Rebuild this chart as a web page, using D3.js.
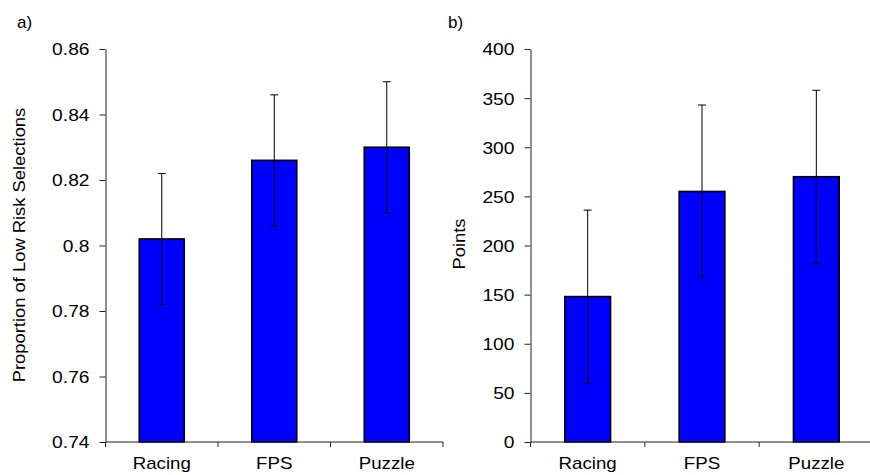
<!DOCTYPE html>
<html>
<head>
<meta charset="utf-8">
<script src="https://cdn.jsdelivr.net/npm/d3@7/dist/d3.min.js"></script>
<style>
  html, body { margin: 0; padding: 0; background: #fff; }
  svg text { font-family: "Liberation Sans", Arial, sans-serif; fill: #000; }
</style>
</head>
<body>
<svg id="chart" width="870" height="475"></svg>
<script>
// Game genres shown on both panels
const categories = ["Racing", "FPS", "Puzzle"];

// Panel a: proportion of low-risk selections (mean and error half-width)
const proportionMeans = [0.802, 0.826, 0.830];
const proportionErrors = [0.020, 0.020, 0.020];
const proportionTicks = [0.74, 0.76, 0.78, 0.80, 0.82, 0.84, 0.86];
const proportionTickLabels = ["0.74", "0.76", "0.78", "0.8", "0.82", "0.84", "0.86"];

// Panel b: points earned (mean and error half-width)
const pointsMeans = [148, 255, 270];
const pointsErrors = [88, 88, 88];
const pointsTicks = [0, 50, 100, 150, 200, 250, 300, 350, 400];

const svg = d3.select("#chart");
const FONT = 17;

// widen glyphs slightly, like a horizontally stretched Arial
function stretch(sel, k) {
  sel.each(function () {
    const w = this.getComputedTextLength();
    d3.select(this).attr("textLength", w * k).attr("lengthAdjust", "spacingAndGlyphs");
  });
}

function panel(opts) {
  const g = svg.append("g");
  const y = d3.scaleLinear().domain(opts.domain).range([442, 49]);
  const x = d3.scaleBand().domain(categories).range([opts.x0, opts.x1]).paddingInner(0).paddingOuter(0);
  const barW = x.bandwidth() * 0.4;

  // bars
  g.selectAll("rect.bar").data(opts.means).join("rect")
    .attr("class", "bar")
    .attr("x", (d, i) => x(categories[i]) + (x.bandwidth() - barW) / 2)
    .attr("y", d => y(d))
    .attr("width", barW)
    .attr("height", d => y(opts.domain[0]) - y(d))
    .attr("fill", "#0000ff")
    .attr("stroke", "#000")
    .attr("stroke-width", 1.6);

  // error bars
  const eb = g.selectAll("g.err").data(opts.means).join("g").attr("class", "err");
  const cx = i => x(categories[i]) + x.bandwidth() / 2;
  eb.append("line")
    .attr("x1", (d, i) => cx(i)).attr("x2", (d, i) => cx(i))
    .attr("y1", (d, i) => y(d - opts.errors[i]))
    .attr("y2", (d, i) => y(d + opts.errors[i]))
    .attr("stroke", "#000").attr("stroke-width", 1);
  [-1, 1].forEach(s => {
    eb.append("line")
      .attr("x1", (d, i) => cx(i) - 4).attr("x2", (d, i) => cx(i) + 4)
      .attr("y1", (d, i) => y(d + s * opts.errors[i]))
      .attr("y2", (d, i) => y(d + s * opts.errors[i]))
      .attr("stroke", "#000").attr("stroke-width", 1);
  });

  // y axis
  const yAxis = d3.axisLeft(y)
    .tickValues(opts.ticks)
    .tickFormat((d, i) => opts.tickLabels ? opts.tickLabels[i] : String(d))
    .tickSize(6).tickPadding(10).tickSizeOuter(0);
  const ya = g.append("g").attr("transform", `translate(${opts.x0},0)`).call(yAxis);
  ya.selectAll("text").style("font-size", FONT + "px").attr("dy", "0.35em")
    .call(stretch, 1.13);
  ya.selectAll("line, path").attr("stroke", "#222");

  // x axis with boundary ticks between categories
  const xa = g.append("g").attr("transform", `translate(0,${y(opts.domain[0])})`);
  xa.append("line").attr("x1", opts.x0).attr("x2", opts.x1).attr("stroke", "#222");
  const bounds = categories.map(c => x(c)).concat([opts.x1]);
  xa.selectAll("line.tk").data(bounds).join("line").attr("class", "tk")
    .attr("x1", d => d).attr("x2", d => d).attr("y1", 0).attr("y2", 5).attr("stroke", "#222");
  xa.selectAll("text").data(categories).join("text")
    .attr("x", d => x(d) + x.bandwidth() / 2)
    .attr("y", 26.5)
    .attr("text-anchor", "middle")
    .style("font-size", FONT + "px")
    .text(d => d)
    .call(stretch, 1.1);

  // y axis title
  g.append("text")
    .attr("transform", `translate(${opts.titleX},${opts.titleY}) rotate(-90)`)
    .attr("text-anchor", "middle")
    .style("font-size", FONT + "px")
    .text(opts.title)
    .call(stretch, 1.08);

  // panel letter
  g.append("text").attr("x", opts.letterX).attr("y", 28)
    .style("font-size", FONT + "px").text(opts.letter);
}

panel({
  domain: [0.74, 0.86], ticks: proportionTicks, tickLabels: proportionTickLabels,
  means: proportionMeans, errors: proportionErrors,
  x0: 105.5, x1: 443, title: "Proportion of Low Risk Selections",
  titleX: 25, titleY: 245, letter: "a)", letterX: 17
});

panel({
  domain: [0, 400], ticks: pointsTicks, tickLabels: null,
  means: pointsMeans, errors: pointsErrors,
  x0: 530.5, x1: 873.5, title: "Points",
  titleX: 465, titleY: 244, letter: "b)", letterX: 448
});
</script>
</body>
</html>
